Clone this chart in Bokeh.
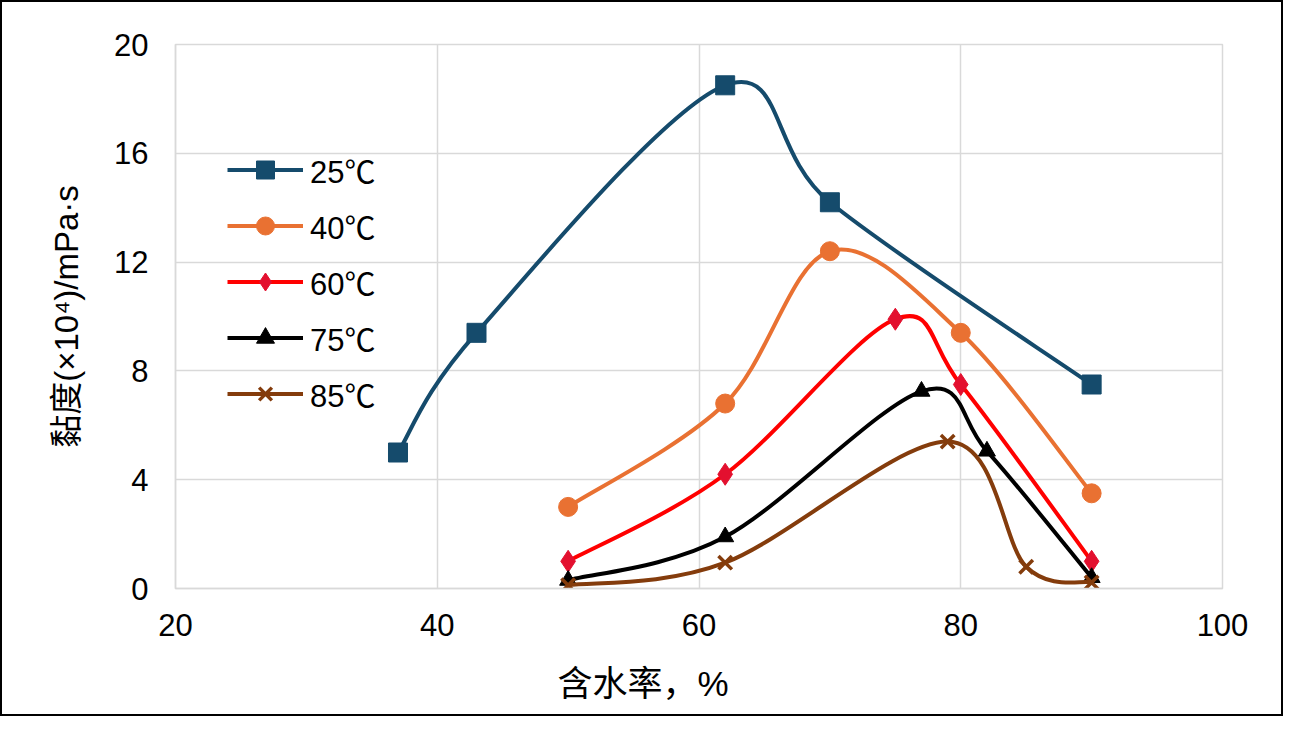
from bokeh.plotting import figure
from bokeh.models import Range1d, FixedTicker, Legend, LegendItem, ColumnDataSource, Title, LinearAxis
from bokeh.embed import file_html
from bokeh.resources import INLINE

# ---- data ----
series_labels = ["25℃", "40℃", "60℃", "75℃", "85℃"]

water_25 = [37, 43, 62, 70, 90]
visc_25 = [5.0, 9.4, 18.5, 14.2, 7.5]

water_40 = [50, 62, 70, 80, 90]
visc_40 = [3.0, 6.8, 12.4, 9.4, 3.5]

water_60 = [50, 62, 75, 80, 90]
visc_60 = [1.0, 4.2, 9.9, 7.5, 1.0]

water_75 = [50, 62, 77, 82, 90]
visc_75 = [0.3, 1.9, 7.25, 5.05, 0.4]

water_85 = [50, 62, 79, 85, 90]
visc_85 = [0.12, 0.95, 5.4, 0.8, 0.22]

x_ticks = [20, 40, 60, 80, 100]
y_ticks = [0, 4, 8, 12, 16, 20]

x_title = "含水率，%"
y_title = "黏度(×10⁴)/mPa·s"

# ---- styles ----
colors = ["#154B6C", "#E97132", "#FF0000", "#000000", "#843C0C"]
marker_fill = ["#154B6C", "#E97132", "#E3102F", "#000000", "#843C0C"]
markers = ["square", "circle", "diamond", "triangle", "x"]
marker_sizes = [19, 19, 22, 17, 19]

FONT = "Liberation Sans, Noto Sans CJK SC"
GRID = "#D9D9D9"


def smooth_segments(xs, ys):
    """Bezier control points (Excel-like smoothed line) from the data points."""
    n = len(xs)
    d = dict(x0=[], y0=[], x1=[], y1=[], cx0=[], cy0=[], cx1=[], cy1=[])
    for i in range(n - 1):
        a = max(i - 1, 0)
        b = i
        c = i + 1
        e = min(i + 2, n - 1)
        d["x0"].append(xs[b]); d["y0"].append(ys[b])
        d["x1"].append(xs[c]); d["y1"].append(ys[c])
        d["cx0"].append(xs[b] + (xs[c] - xs[a]) / 6.0)
        d["cy0"].append(ys[b] + (ys[c] - ys[a]) / 6.0)
        d["cx1"].append(xs[c] - (xs[e] - xs[b]) / 6.0)
        d["cy1"].append(ys[c] - (ys[e] - ys[b]) / 6.0)
    return d


p = figure(
    width=1283, height=716,
    output_backend="svg", toolbar_location=None,
    x_range=Range1d(20, 100), y_range=Range1d(0, 20),
    min_border_left=173, min_border_right=63,
    min_border_top=42, min_border_bottom=130,
)
p.styles = {"border": "2px solid black"}
p.background_fill_color = "white"
p.border_fill_color = "white"
p.outline_line_color = GRID
p.outline_line_width = 1.5

p.xaxis.ticker = FixedTicker(ticks=x_ticks)
p.yaxis.ticker = FixedTicker(ticks=y_ticks)
p.xgrid.ticker = FixedTicker(ticks=x_ticks)
p.ygrid.ticker = FixedTicker(ticks=y_ticks)
for g in (p.xgrid, p.ygrid):
    g.grid_line_color = GRID
    g.grid_line_width = 1.5

for ax in (p.xaxis, p.yaxis):
    ax.axis_line_color = GRID
    ax.axis_line_width = 1.5
    ax.major_tick_line_color = None
    ax.minor_tick_line_color = None
    ax.major_label_text_font = FONT
    ax.major_label_text_font_size = "31px"
    ax.major_label_text_color = "#000000"
    ax.axis_label_text_font = FONT
    ax.axis_label_text_font_style = "normal"
    ax.axis_label_text_color = "#000000"

p.xaxis.major_label_standoff = 19
p.yaxis.major_label_standoff = 21
p.yaxis.axis_label = y_title
p.yaxis.axis_label_text_font_size = "33px"
p.yaxis.axis_label_standoff = 26

# invisible spacer band below the x axis (white tick on white, no label, no line)
spacer = LinearAxis(ticker=FixedTicker(ticks=[x_ticks[0]]), axis_line_color=None,
                    major_tick_line_color="white", minor_tick_line_color=None,
                    major_tick_in=0, major_tick_out=16, minor_tick_out=0,
                    major_label_text_color=None, major_label_text_font_size="1px",
                    major_label_standoff=0)
p.add_layout(spacer, "below")

# x-axis title: sits left of centre in the reference
xt = Title(text=x_title, align="left", offset=382, vertical_align="top", standoff=18,
           text_font=FONT, text_font_size="35px", text_font_style="normal",
           text_color="#000000")
p.add_layout(xt, "below")

all_x = [water_25, water_40, water_60, water_75, water_85]
all_y = [visc_25, visc_40, visc_60, visc_75, visc_85]

items = []
for i in range(5):
    seg = ColumnDataSource(smooth_segments(all_x[i], all_y[i]))
    bez = p.bezier(x0="x0", y0="y0", x1="x1", y1="y1", cx0="cx0", cy0="cy0",
                   cx1="cx1", cy1="cy1", source=seg,
                   line_color=colors[i], line_width=4)
    pts = ColumnDataSource(dict(x=all_x[i], y=all_y[i]))
    if markers[i] == "x":
        sc = p.scatter("x", "y", source=pts, marker="x", size=marker_sizes[i],
                       line_color=marker_fill[i], line_width=3.5)
    else:
        sc = p.scatter("x", "y", source=pts, marker=markers[i], size=marker_sizes[i],
                       fill_color=marker_fill[i], line_color=marker_fill[i], line_width=1)
    items.append(LegendItem(label=series_labels[i], renderers=[bez, sc]))

legend = Legend(items=items, location=(52, 172))
legend.background_fill_alpha = 0
legend.border_line_color = None
legend.padding = 0
legend.margin = 0
legend.glyph_width = 76
legend.glyph_height = 45
legend.label_height = 45
legend.spacing = 11
legend.label_standoff = 7
legend.label_text_font = FONT
legend.label_text_font_size = "31px"
legend.label_text_color = "#000000"
p.add_layout(legend)

open("out.html", "w").write(file_html(p, INLINE))
